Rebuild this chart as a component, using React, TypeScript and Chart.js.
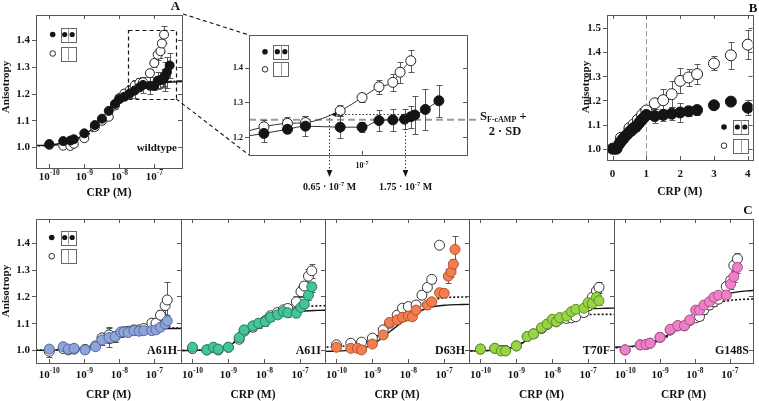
import { useEffect, useRef } from 'react';
import { Chart, registerables } from 'chart.js';

Chart.register(...registerables);

/* ---------- wild-type titration: panel A and its inset ---------- */
const WT_FILLED_CONC = [1e-10, 2.5e-10, 4e-10, 5e-10, 1e-9, 2e-9, 3.2e-9, 5e-9, 7.5e-9, 1e-8, 1.4e-8, 2e-8, 2.75e-8, 3.75e-8, 4.75e-8, 7.5e-8, 1e-7, 1.25e-7, 1.5e-7, 1.75e-7, 1.9e-7, 2e-7, 2.3e-7, 2.75e-7];
const WT_FILLED = [1.011, 1.022, 1.024, 1.029, 1.051, 1.082, 1.106, 1.135, 1.161, 1.179, 1.188, 1.2, 1.211, 1.223, 1.232, 1.229, 1.229, 1.248, 1.25, 1.252, 1.259, 1.264, 1.28, 1.305];
const WT_FILLED_SD = [0.006, 0.006, 0.007, 0.008, 0.008, 0.008, 0.008, 0.01, 0.01, 0.012, 0.012, 0.015, 0.026, 0.012, 0.029, 0.032, 0.015, 0.031, 0.031, 0.029, 0.032, 0.055, 0.058, 0.046];
const WT_OPEN_CONC = [1e-10, 2.5e-10, 4e-10, 5e-10, 1e-9, 2e-9, 3.2e-9, 5e-9, 7.5e-9, 1e-8, 1.4e-8, 2e-8, 2.75e-8, 3.75e-8, 4.75e-8, 7.5e-8, 1e-7, 1.25e-7, 1.5e-7, 1.65e-7, 1.9e-7];
const WT_OPEN = [1.008, 1.005, 1.004, 1.012, 1.033, 1.075, 1.098, 1.113, 1.155, 1.183, 1.2, 1.212, 1.23, 1.24, 1.242, 1.276, 1.314, 1.345, 1.358, 1.387, 1.42];
const WT_OPEN_SD = [0.01, 0.008, 0.008, 0.01, 0.008, 0.01, 0.01, 0.01, 0.012, 0.015, 0.015, 0.018, 0.02, 0.017, 0.019, 0.016, 0.014, 0.02, 0.024, 0.03, 0.031];

/* fitted binding curves, sampled every half decade */
const FIT_CONC = [3.16e-11, 1e-10, 3.16e-10, 1e-9, 3.16e-9, 1e-8, 3.16e-8, 1e-7, 3.16e-7, 1e-6];
const WT_FIT_FILLED = [1.005, 1.008, 1.018, 1.045, 1.1, 1.172, 1.218, 1.237, 1.243, 1.245];
const WT_FIT_OPEN = [1.003, 1.006, 1.013, 1.036, 1.094, 1.175, 1.224, 1.24, 1.246, 1.247];

/* inset annotations */
const THRESHOLD = 1.25; // S_F-cAMP + 2·SD
const ONSET_OPEN = 0.65e-7;
const ONSET_FILLED = 1.75e-7;
const ONSET_LEVEL = 1.266;
const ZOOM_BOX_X = [1.74e-8, 4.2e-7];
const ZOOM_BOX_Y = [1.18, 1.437];

/* ---------- panel B: linear concentration axis ---------- */
const B_FILLED_X = [0, 0.06, 0.12, 0.2, 0.25, 0.31, 0.37, 0.44, 0.5, 0.56, 0.62, 0.69, 0.75, 0.81, 0.87, 0.94, 1.0, 1.25, 1.5, 1.75, 2.0, 2.25, 2.5, 3.0, 3.5, 4.0];
const B_FILLED = [1.0, 1.0, 1.0, 1.02, 1.03, 1.04, 1.05, 1.06, 1.07, 1.075, 1.085, 1.09, 1.1, 1.11, 1.12, 1.13, 1.14, 1.135, 1.14, 1.145, 1.15, 1.155, 1.16, 1.18, 1.195, 1.17];
const B_FILLED_SD = [0, 0, 0, 0.008, 0.01, 0.01, 0.012, 0.015, 0.015, 0.015, 0.015, 0.015, 0.015, 0.015, 0.015, 0.012, 0.01, 0.03, 0.026, 0.028, 0.04, 0.02, 0.02, 0.01, 0.008, 0.031];
const B_OPEN_X = [0.25, 0.5, 0.625, 0.75, 0.875, 1.0, 1.25, 1.5, 1.75, 2.0, 2.25, 2.5, 3.0, 3.5, 4.0];
const B_OPEN = [1.045, 1.085, 1.1, 1.12, 1.14, 1.158, 1.188, 1.201, 1.226, 1.281, 1.295, 1.309, 1.353, 1.387, 1.431];
const B_OPEN_SD = [0.02, 0.02, 0.02, 0.025, 0.03, 0.02, 0.024, 0.047, 0.054, 0.052, 0.035, 0.041, 0.029, 0.055, 0.06];

/* ---------- panel C: mutants ---------- */
const A61H_CONC = [1e-10, 2.5e-10, 3.5e-10, 5.1e-10, 1.05e-9, 2.1e-9, 3.2e-9, 5.1e-9, 7.6e-9, 1.1e-8, 1.35e-8, 1.8e-8, 2.6e-8, 3.7e-8, 5e-8, 8.5e-8, 1.12e-7, 1.5e-7, 2.04e-7, 2.34e-7];
const A61H = [1.003, 1.012, 1.003, 1.006, 1.0, 1.012, 1.037, 1.046, 1.05, 1.067, 1.067, 1.065, 1.072, 1.07, 1.072, 1.072, 1.075, 1.085, 1.097, 1.109];
const A61H_SD = [0.01, 0.008, 0.008, 0.008, 0.01, 0.01, 0.02, 0.035, 0.02, 0.012, 0.01, 0.01, 0.01, 0.012, 0.012, 0.01, 0.01, 0.012, 0.015, 0.02];
const A61H_OPEN = [0.995, 1.005, 1.0, 1.003, 1.002, 1.015, 1.045, 1.056, 1.05, 1.065, 1.068, 1.07, 1.075, 1.075, 1.08, 1.1, 1.1, 1.13, 1.166, 1.187];
const A61H_OPEN_SD = [0.02, 0.008, 0.008, 0.008, 0.01, 0.01, 0.02, 0.03, 0.02, 0.015, 0.015, 0.015, 0.02, 0.02, 0.015, 0.02, 0.02, 0.02, 0.03, 0.068];
const A61H_FIT = [0.998, 0.999, 1.001, 1.006, 1.03, 1.06, 1.075, 1.079, 1.08, 1.08];
const A61H_FIT_OPEN = [0.999, 1.0, 1.002, 1.008, 1.032, 1.062, 1.077, 1.081, 1.082, 1.082];

const A61I_CONC = [1e-10, 2.5e-10, 3.8e-10, 5.2e-10, 1e-9, 2e-9, 2.75e-9, 4.8e-9, 6.9e-9, 1.07e-8, 1.5e-8, 2.35e-8, 3.4e-8, 4.5e-8, 7.8e-8, 1.05e-7, 1.3e-7, 1.7e-7, 2.1e-7];
const A61I = [1.01, 1.0, 1.01, 1.003, 1.01, 1.046, 1.075, 1.09, 1.1, 1.106, 1.122, 1.131, 1.143, 1.139, 1.137, 1.159, 1.172, 1.205, 1.236];
const A61I_SD = [0.008, 0.008, 0.008, 0.008, 0.008, 0.01, 0.012, 0.012, 0.015, 0.015, 0.012, 0.012, 0.012, 0.015, 0.015, 0.012, 0.015, 0.02, 0.02];
const A61I_OPEN = [1.005, 1.0, 1.008, 1.0, 1.01, 1.04, 1.07, 1.085, 1.098, 1.11, 1.128, 1.14, 1.15, 1.155, 1.18, 1.218, 1.239, 1.276, 1.296];
const A61I_OPEN_SD = [0.01, 0.01, 0.01, 0.01, 0.01, 0.012, 0.012, 0.015, 0.015, 0.015, 0.015, 0.015, 0.015, 0.018, 0.02, 0.02, 0.02, 0.025, 0.025];
const A61I_FIT = [0.997, 0.998, 1.0, 1.015, 1.06, 1.105, 1.135, 1.145, 1.148, 1.149];
const A61I_FIT_OPEN = [0.998, 0.999, 1.002, 1.017, 1.062, 1.11, 1.145, 1.16, 1.165, 1.166];

const D63H_CONC = [1e-10, 2.5e-10, 3.8e-10, 5e-10, 1e-9, 2e-9, 3e-9, 4.9e-9, 6.9e-9, 1e-8, 1.3e-8, 1.65e-8, 3.4e-8, 4.5e-8, 7.4e-8, 1e-7, 1.3e-7, 1.55e-7, 1.8e-7, 2e-7];
const D63H = [1.01, 1.006, 1.006, 1.0, 1.022, 1.056, 1.103, 1.112, 1.122, 1.127, 1.124, 1.149, 1.168, 1.18, 1.214, 1.212, 1.276, 1.292, 1.321, 1.376];
const D63H_SD = [0.01, 0.01, 0.01, 0.008, 0.01, 0.012, 0.012, 0.015, 0.015, 0.012, 0.012, 0.012, 0.015, 0.015, 0.015, 0.012, 0.025, 0.02, 0.02, 0.05];
const D63H_OPEN_CONC = [1e-10, 2.5e-10, 5e-10, 1e-9, 2e-9, 3e-9, 4.9e-9, 6.9e-9, 1e-8, 1.65e-8, 2.4e-8, 3.4e-8, 4.5e-8, 7.4e-8];
const D63H_OPEN = [1.019, 1.025, 1.029, 1.044, 1.075, 1.1, 1.13, 1.156, 1.162, 1.168, 1.205, 1.234, 1.264, 1.392];
const D63H_OPEN_SD = [0.008, 0.008, 0.008, 0.008, 0.01, 0.01, 0.012, 0.012, 0.012, 0.012, 0.012, 0.012, 0.012, 0.01];
const D63H_FIT = [0.994, 0.996, 1.0, 1.02, 1.07, 1.12, 1.155, 1.167, 1.17, 1.171];
const D63H_FIT_OPEN = [1.01, 1.012, 1.02, 1.04, 1.09, 1.14, 1.18, 1.195, 1.198, 1.199];

const T70F_CONC = [1e-10, 2.5e-10, 3.8e-10, 5e-10, 1e-9, 2e-9, 3e-9, 5e-9, 7.2e-9, 1e-8, 1.3e-8, 1.6e-8, 2.5e-8, 3.4e-8, 4.5e-8, 7.6e-8, 1e-7, 1.3e-7, 1.7e-7, 2e-7];
const T70F = [1.003, 1.006, 0.996, 0.996, 1.015, 1.05, 1.06, 1.083, 1.097, 1.115, 1.106, 1.121, 1.127, 1.143, 1.152, 1.156, 1.177, 1.174, 1.197, 1.184];
const T70F_SD = [0.008, 0.008, 0.006, 0.006, 0.008, 0.01, 0.01, 0.01, 0.01, 0.01, 0.01, 0.01, 0.012, 0.012, 0.012, 0.012, 0.015, 0.015, 0.015, 0.015];
const T70F_OPEN = [1.003, 1.006, 0.998, 0.998, 1.015, 1.05, 1.06, 1.08, 1.095, 1.11, 1.105, 1.115, 1.118, 1.12, 1.124, 1.14, 1.165, 1.197, 1.221, 1.234];
const T70F_OPEN_SD = [0.008, 0.008, 0.006, 0.006, 0.008, 0.01, 0.01, 0.01, 0.01, 0.01, 0.01, 0.01, 0.012, 0.012, 0.012, 0.012, 0.015, 0.015, 0.02, 0.02];
const T70F_FIT = [0.996, 0.997, 1.0, 1.015, 1.055, 1.105, 1.14, 1.153, 1.156, 1.157];
const T70F_FIT_OPEN = [0.996, 0.997, 1.0, 1.015, 1.055, 1.103, 1.128, 1.132, 1.133, 1.133];

const G148S_CONC = [1e-10, 2.7e-10, 4e-10, 5.2e-10, 1e-9, 1.95e-9, 3.2e-9, 5e-9, 7.1e-9, 1.05e-8, 1.35e-8, 1.8e-8, 2.6e-8, 3.5e-8, 4.7e-8, 7.9e-8, 1.05e-7, 1.3e-7, 1.65e-7];
const G148S = [1.0, 1.019, 1.021, 1.025, 1.047, 1.077, 1.091, 1.091, 1.112, 1.149, 1.149, 1.168, 1.18, 1.197, 1.205, 1.205, 1.246, 1.274, 1.309];
const G148S_SD = [0.008, 0.008, 0.008, 0.008, 0.01, 0.01, 0.01, 0.01, 0.012, 0.012, 0.012, 0.015, 0.015, 0.015, 0.015, 0.015, 0.018, 0.02, 0.02];
const G148S_OPEN = [1.0, 1.019, 1.02, 1.025, 1.047, 1.075, 1.09, 1.09, 1.11, 1.12, 1.125, 1.15, 1.168, 1.18, 1.19, 1.237, 1.26, 1.316, 1.341];
const G148S_OPEN_SD = [0.008, 0.008, 0.008, 0.008, 0.01, 0.01, 0.01, 0.01, 0.012, 0.012, 0.012, 0.015, 0.015, 0.015, 0.015, 0.015, 0.018, 0.02, 0.022];
const G148S_FIT = [1.01, 1.012, 1.02, 1.04, 1.08, 1.14, 1.19, 1.212, 1.221, 1.223];
const G148S_FIT_OPEN = [1.008, 1.01, 1.018, 1.036, 1.075, 1.13, 1.17, 1.185, 1.19, 1.191];

/* ---------- axis ticks ---------- */
const LOG_TICKS = [1e-10, 1e-9, 1e-8, 1e-7];
const ANIS_TICKS = [1.0, 1.1, 1.2, 1.3, 1.4];
const INSET_TICKS = [1.2, 1.3, 1.4];
const B_Y_TICKS = [1.0, 1.1, 1.2, 1.3, 1.4, 1.5];
const B_X_TICKS = [0, 1, 2, 3, 4];

const MUTANTS = [
  { name: 'A61H', fill: '#8ea5da', edge: '#5668a3', conc: A61H_CONC, y: A61H, sd: A61H_SD, openConc: A61H_CONC, open: A61H_OPEN, openSd: A61H_OPEN_SD, fit: A61H_FIT, fitOpen: A61H_FIT_OPEN },
  { name: 'A61I', fill: '#45c39c', edge: '#23825f', conc: A61I_CONC, y: A61I, sd: A61I_SD, openConc: A61I_CONC, open: A61I_OPEN, openSd: A61I_OPEN_SD, fit: A61I_FIT, fitOpen: A61I_FIT_OPEN },
  { name: 'D63H', fill: '#f47e50', edge: '#b5522b', conc: D63H_CONC, y: D63H, sd: D63H_SD, openConc: D63H_OPEN_CONC, open: D63H_OPEN, openSd: D63H_OPEN_SD, fit: D63H_FIT, fitOpen: D63H_FIT_OPEN },
  { name: 'T70F', fill: '#98d446', edge: '#5e8f22', conc: T70F_CONC, y: T70F, sd: T70F_SD, openConc: T70F_CONC, open: T70F_OPEN, openSd: T70F_OPEN_SD, fit: T70F_FIT, fitOpen: T70F_FIT_OPEN },
  { name: 'G148S', fill: '#ee80c8', edge: '#ad4f8b', conc: G148S_CONC, y: G148S, sd: G148S_SD, openConc: G148S_CONC, open: G148S_OPEN, openSd: G148S_OPEN_SD, fit: G148S_FIT, fitOpen: G148S_FIT_OPEN },
];

/* ---------- drawing helpers ---------- */
const PAGE_W = 759;
const PAGE_H = 401;
const SERIF = '"Liberation Serif", "Times New Roman", Times, serif';
const INK = '#141414';
const FRAME_COLOR = '#585858';
const TICK = 4;

type Seg = { t: string; s: number; dy?: number };
type Frame = { l: number; t: number; r: number; b: number };
type Spec = {
  id: string;
  frame: Frame;
  xType: 'logarithmic' | 'linear';
  xMin: number;
  xMax: number;
  yMin: number;
  yMax: number;
  xTicks: number[];
  topTicks: boolean;
  xLabel?: (v: number) => Seg[];
  xLabelY: number;
  yTicks: number[];
  yLabelSize?: number;
  datasets: any[];
  before?: (c: any, ctx: CanvasRenderingContext2D) => void;
  after?: (c: any, ctx: CanvasRenderingContext2D) => void;
};

const fontOf = (s: number) => `bold ${s}px ${SERIF}`;
const crisp = (v: number) => Math.round(v) + 0.5;

function rich(ctx: CanvasRenderingContext2D, segs: Seg[], x: number, y: number, align: 'left' | 'center' | 'right' = 'center') {
  let w = 0;
  for (const g of segs) {
    ctx.font = fontOf(g.s);
    w += ctx.measureText(g.t).width;
  }
  let cx = align === 'center' ? x - w / 2 : align === 'right' ? x - w : x;
  ctx.textAlign = 'left';
  ctx.textBaseline = 'alphabetic';
  for (const g of segs) {
    ctx.font = fontOf(g.s);
    ctx.fillText(g.t, cx, y + (g.dy || 0));
    cx += ctx.measureText(g.t).width;
  }
}

const pow10 = (v: number, s = 11, es = 7.5): Seg[] => [
  { t: '10', s },
  { t: String(Math.round(Math.log10(v))), s: es, dy: -s * 0.42 },
];

function text(ctx: CanvasRenderingContext2D, s: string, x: number, y: number, size: number, align: CanvasTextAlign = 'center') {
  ctx.font = fontOf(size);
  ctx.textAlign = align;
  ctx.textBaseline = 'alphabetic';
  ctx.fillStyle = INK;
  ctx.fillText(s, x, y);
}

function vtext(ctx: CanvasRenderingContext2D, s: string, x: number, y: number, size: number) {
  ctx.save();
  ctx.translate(x, y);
  ctx.rotate(-Math.PI / 2);
  ctx.font = fontOf(size);
  ctx.textAlign = 'center';
  ctx.textBaseline = 'middle';
  ctx.fillStyle = INK;
  ctx.fillText(s, 0, 0);
  ctx.restore();
}

function disc(ctx: CanvasRenderingContext2D, x: number, y: number, r: number, filled: boolean) {
  ctx.beginPath();
  ctx.arc(x, y, r, 0, Math.PI * 2);
  if (filled) {
    ctx.fillStyle = INK;
    ctx.fill();
  } else {
    ctx.fillStyle = '#fff';
    ctx.fill();
    ctx.strokeStyle = INK;
    ctx.lineWidth = 0.9;
    ctx.stroke();
  }
}

// symbol key: filled dot + box with two occupied sites, open dot + empty box
function keyGlyphs(ctx: CanvasRenderingContext2D, x: number, y: number, gap: number, off: number) {
  const bw = 15;
  const bh = 14;
  const bx = x + off;
  [y, y + gap].forEach((ry, row) => {
    disc(ctx, x, ry, 2.8, row === 0);
    ctx.strokeStyle = '#666';
    ctx.lineWidth = 1;
    ctx.strokeRect(crisp(bx), crisp(ry - bh / 2), bw, bh);
    ctx.strokeStyle = '#9a9a9a';
    ctx.beginPath();
    ctx.moveTo(crisp(bx + bw / 2), ry - bh / 2);
    ctx.lineTo(crisp(bx + bw / 2), ry + bh / 2);
    ctx.stroke();
    if (row === 0) {
      disc(ctx, bx + 4, ry, 2.6, true);
      disc(ctx, bx + 11.5, ry, 2.6, true);
    }
  });
}

function arrowDown(ctx: CanvasRenderingContext2D, x: number, y: number) {
  ctx.beginPath();
  ctx.moveTo(x, y);
  ctx.lineTo(x - 2.8, y - 7);
  ctx.lineTo(x + 2.8, y - 7);
  ctx.closePath();
  ctx.fill();
}

const pts = (xs: number[], ys: number[]) => xs.map((x, i) => ({ x, y: ys[i] }));

function markers(xs: number[], ys: number[], sd: number[], fill: string, edge: string, r: number) {
  return {
    data: pts(xs, ys),
    errors: sd,
    showLine: false,
    pointRadius: r,
    pointHoverRadius: r,
    pointBackgroundColor: fill,
    pointBorderColor: edge,
    pointBorderWidth: 1,
    backgroundColor: fill,
    borderColor: edge,
  };
}

function curve(xs: number[], ys: number[], dash: number[], width = 1.4) {
  return {
    data: pts(xs, ys),
    showLine: true,
    pointRadius: 0,
    pointHoverRadius: 0,
    borderColor: INK,
    borderWidth: width,
    borderDash: dash,
    cubicInterpolationMode: 'monotone',
    tension: 0.4,
    fill: false,
  };
}

function decorPlugin(spec: Spec) {
  return {
    id: 'decor_' + spec.id,
    beforeDatasetsDraw(chart: any) {
      const ctx = chart.ctx as CanvasRenderingContext2D;
      const a = chart.chartArea;
      if (spec.before) {
        ctx.save();
        spec.before(chart, ctx);
        ctx.restore();
      }
      // standard-deviation bars, behind the symbols
      const xs = chart.scales.x;
      const ys = chart.scales.y;
      ctx.save();
      ctx.beginPath();
      ctx.rect(a.left, a.top, a.right - a.left, a.bottom - a.top);
      ctx.clip();
      ctx.strokeStyle = '#4a4a4a';
      ctx.lineWidth = 0.9;
      for (const ds of chart.data.datasets as any[]) {
        if (!ds.errors) continue;
        ds.data.forEach((p: any, i: number) => {
          const e = ds.errors[i];
          if (!e) return;
          const px = crisp(xs.getPixelForValue(p.x));
          const y1 = crisp(ys.getPixelForValue(p.y - e));
          const y2 = crisp(ys.getPixelForValue(p.y + e));
          ctx.beginPath();
          ctx.moveTo(px, y1);
          ctx.lineTo(px, y2);
          ctx.moveTo(px - 3, y1);
          ctx.lineTo(px + 3, y1);
          ctx.moveTo(px - 3, y2);
          ctx.lineTo(px + 3, y2);
          ctx.stroke();
        });
      }
      ctx.restore();
    },
    afterDatasetsDraw(chart: any) {
      const ctx = chart.ctx as CanvasRenderingContext2D;
      const a = chart.chartArea;
      const xs = chart.scales.x;
      const ys = chart.scales.y;
      ctx.save();
      ctx.strokeStyle = FRAME_COLOR;
      ctx.lineWidth = 1;
      ctx.strokeRect(crisp(a.left), crisp(a.top), Math.round(a.right - a.left), Math.round(a.bottom - a.top));
      ctx.beginPath();
      for (const v of spec.xTicks) {
        const px = crisp(xs.getPixelForValue(v));
        ctx.moveTo(px, a.bottom);
        ctx.lineTo(px, a.bottom - TICK);
        if (spec.topTicks) {
          ctx.moveTo(px, a.top);
          ctx.lineTo(px, a.top + TICK);
        }
      }
      for (const v of spec.yTicks) {
        const py = crisp(ys.getPixelForValue(v));
        ctx.moveTo(a.left - TICK, py);
        ctx.lineTo(a.left, py);
        ctx.moveTo(a.right - TICK, py);
        ctx.lineTo(a.right, py);
      }
      ctx.stroke();
      ctx.fillStyle = INK;
      if (spec.xLabel) {
        for (const v of spec.xTicks) rich(ctx, spec.xLabel(v), xs.getPixelForValue(v), spec.xLabelY, 'center');
      }
      if (spec.yLabelSize) {
        ctx.font = fontOf(spec.yLabelSize);
        ctx.textAlign = 'right';
        ctx.textBaseline = 'middle';
        for (const v of spec.yTicks) ctx.fillText(v.toFixed(1), a.left - TICK - 2, ys.getPixelForValue(v) + 0.5);
      }
      if (spec.after) spec.after(chart, ctx);
      ctx.restore();
    },
  };
}

/* ---------- panel definitions ---------- */
function buildSpecs(registry: Record<string, any>): Spec[] {
  const specs: Spec[] = [];

  // A: wild type, full range
  specs.push({
    id: 'A',
    frame: { l: 36, t: 15, r: 182, b: 168 },
    xType: 'logarithmic',
    xMin: 10 ** -10.38,
    xMax: 10 ** (-10.38 + 146 / 35),
    yMin: 0.9215,
    yMax: 1.4935,
    xTicks: LOG_TICKS,
    topTicks: true,
    xLabel: (v) => pow10(v),
    xLabelY: 180,
    yTicks: ANIS_TICKS,
    yLabelSize: 11,
    datasets: [
      markers(WT_FILLED_CONC, WT_FILLED, WT_FILLED_SD, INK, INK, 4.5),
      markers(WT_OPEN_CONC, WT_OPEN, WT_OPEN_SD, '#fff', '#222', 4.5),
      curve(FIT_CONC, WT_FIT_FILLED, []),
      curve(FIT_CONC, WT_FIT_OPEN, [5, 2, 1.5, 2]),
    ],
    after: (c, ctx) => {
      const a = c.chartArea;
      const xs = c.scales.x;
      const ys = c.scales.y;
      const x1 = xs.getPixelForValue(ZOOM_BOX_X[0]);
      const x2 = xs.getPixelForValue(ZOOM_BOX_X[1]);
      const y1 = ys.getPixelForValue(ZOOM_BOX_Y[1]);
      const y2 = ys.getPixelForValue(ZOOM_BOX_Y[0]);
      ctx.strokeStyle = INK;
      ctx.lineWidth = 1.2;
      ctx.setLineDash([4, 3]);
      ctx.strokeRect(crisp(x1), crisp(y1), Math.round(x2 - x1), Math.round(y2 - y1));
      ctx.setLineDash([]);
      keyGlyphs(ctx, 52.7, 34.5, 19, 8);
      text(ctx, 'wildtype', a.right - 5, 151, 11, 'right');
      text(ctx, 'A', 175.5, 10, 13);
      text(ctx, 'CRP (M)', (a.left + a.right) / 2, 195.5, 11.5);
      vtext(ctx, 'Anisotropy', 6.5, 87, 11);
    },
  });

  // inset: magnified high-concentration region of the wild type
  specs.push({
    id: 'inset',
    frame: { l: 249, t: 35, r: 467, b: 155 },
    xType: 'logarithmic',
    xMin: 10 ** -7.646,
    xMax: 10 ** -6.4,
    yMin: 1.149,
    yMax: 1.494,
    xTicks: [1e-7],
    topTicks: false,
    xLabel: (v) => pow10(v, 8, 6),
    xLabelY: 168,
    yTicks: INSET_TICKS,
    yLabelSize: 8,
    datasets: [
      { ...markers(WT_FILLED_CONC, WT_FILLED, WT_FILLED_SD, INK, INK, 5), showLine: true, borderColor: '#333', borderWidth: 1, cubicInterpolationMode: 'monotone', clip: 0 },
      { ...markers(WT_OPEN_CONC, WT_OPEN, WT_OPEN_SD, '#fff', '#222', 5), showLine: true, borderColor: '#333', borderWidth: 1, cubicInterpolationMode: 'monotone', clip: 0 },
    ],
    before: (c, ctx) => {
      const a = c.chartArea;
      const y = c.scales.y.getPixelForValue(THRESHOLD);
      ctx.strokeStyle = '#9b9b9b';
      ctx.lineWidth = 2;
      ctx.setLineDash([7, 4]);
      ctx.beginPath();
      ctx.moveTo(a.left, y);
      ctx.lineTo(478, y);
      ctx.stroke();
      ctx.setLineDash([]);
    },
    after: (c, ctx) => {
      const a = c.chartArea;
      const xs = c.scales.x;
      const ys = c.scales.y;
      keyGlyphs(ctx, 265, 51.7, 17.6, 8.3);

      const xa = crisp(xs.getPixelForValue(ONSET_OPEN));
      const xb = crisp(xs.getPixelForValue(ONSET_FILLED));
      const yl = crisp(ys.getPixelForValue(ONSET_LEVEL));
      const yEnd = a.bottom + 22;
      ctx.strokeStyle = '#333';
      ctx.lineWidth = 1;
      ctx.setLineDash([1.5, 2]);
      ctx.beginPath();
      ctx.moveTo(xa + 5, yl);
      ctx.lineTo(xb, yl);
      ctx.moveTo(xa, yl);
      ctx.lineTo(xa, yEnd - 6);
      ctx.moveTo(xb, yl);
      ctx.lineTo(xb, yEnd - 6);
      ctx.stroke();
      ctx.setLineDash([]);
      ctx.fillStyle = INK;
      arrowDown(ctx, xa, yEnd);
      arrowDown(ctx, xb, yEnd);
      ctx.beginPath();
      ctx.moveTo(xa + 1.5, yl);
      ctx.lineTo(xa + 7, yl - 2.5);
      ctx.lineTo(xa + 7, yl + 2.5);
      ctx.closePath();
      ctx.fill();
      rich(ctx, [{ t: '0.65 · 10', s: 10 }, { t: '-7', s: 6.5, dy: -4 }, { t: ' M', s: 10 }], xa, 189.5, 'center');
      rich(ctx, [{ t: '1.75 · 10', s: 10 }, { t: '-7', s: 6.5, dy: -4 }, { t: ' M', s: 10 }], xb, 189.5, 'center');

      rich(ctx, [{ t: 'S', s: 12.5 }, { t: 'F-cAMP', s: 8, dy: 2.5 }, { t: ' +', s: 12.5 }], 480, 119.5, 'left');
      rich(ctx, [{ t: '2 · SD', s: 12.5 }], 505, 134.5, 'center');

      // dashed connectors back to the zoom box in panel A
      const A = registry.A;
      if (A) {
        const aa = A.chartArea;
        const bx = A.scales.x.getPixelForValue(ZOOM_BOX_X[1]);
        const by = A.scales.y.getPixelForValue(ZOOM_BOX_Y[0]);
        ctx.strokeStyle = INK;
        ctx.lineWidth = 1.1;
        ctx.setLineDash([4, 3]);
        ctx.beginPath();
        ctx.moveTo(aa.right + 1, aa.top - 1);
        ctx.lineTo(a.left, a.top);
        ctx.moveTo(bx, by);
        ctx.lineTo(a.left, a.bottom);
        ctx.stroke();
        ctx.setLineDash([]);
      }
    },
  });

  // B: linear concentration scale
  specs.push({
    id: 'B',
    frame: { l: 607, t: 15, r: 755, b: 160 },
    xType: 'linear',
    xMin: -5.6 / 34.4,
    xMax: -5.6 / 34.4 + 148 / 34.4,
    yMin: 0.953,
    yMax: 1.554,
    xTicks: B_X_TICKS,
    topTicks: true,
    xLabel: (v) => [{ t: String(v), s: 11 }],
    xLabelY: 177,
    yTicks: B_Y_TICKS,
    yLabelSize: 11,
    datasets: [
      markers(B_FILLED_X, B_FILLED, B_FILLED_SD, INK, INK, 5.5),
      markers(B_OPEN_X, B_OPEN, B_OPEN_SD, '#fff', '#222', 5.5),
    ],
    before: (c, ctx) => {
      const a = c.chartArea;
      const x = crisp(c.scales.x.getPixelForValue(1));
      ctx.strokeStyle = '#9b9b9b';
      ctx.lineWidth = 1;
      ctx.setLineDash([5, 3]);
      ctx.beginPath();
      ctx.moveTo(x, a.top);
      ctx.lineTo(x, a.bottom);
      ctx.stroke();
      ctx.setLineDash([]);
    },
    after: (c, ctx) => {
      const a = c.chartArea;
      keyGlyphs(ctx, 724, 127, 18.7, 9.3);
      text(ctx, 'B', 753, 12, 13);
      text(ctx, 'CRP (M)', (a.left + a.right) / 2, 195, 11.5);
      vtext(ctx, 'Anisotropy', 586, 87, 11);
    },
  });

  // C: one frame per mutant, sharing the anisotropy axis
  const C_FRAMES = [
    { l: 36, r: 181 },
    { l: 181, r: 325 },
    { l: 325, r: 469 },
    { l: 469, r: 614 },
    { l: 614, r: 757 },
  ];
  MUTANTS.forEach((m, i) => {
    const f = C_FRAMES[i];
    const lmin = i === 0 ? -10.38 : -10.32;
    const ppd = i === 0 ? 35 : 35.9;
    specs.push({
      id: 'C' + i,
      frame: { l: f.l, t: 219, r: f.r, b: 363 },
      xType: 'logarithmic',
      xMin: 10 ** lmin,
      xMax: 10 ** (lmin + (f.r - f.l) / ppd),
      yMin: 0.951,
      yMax: 1.49,
      xTicks: LOG_TICKS,
      topTicks: true,
      xLabel: (v) => pow10(v),
      xLabelY: 378,
      yTicks: ANIS_TICKS,
      yLabelSize: i === 0 ? 11 : undefined,
      datasets: [
        markers(m.conc, m.y, m.sd, m.fill, m.edge, 5),
        markers(m.openConc, m.open, m.openSd, '#fff', '#333', 5),
        curve(FIT_CONC, m.fit, []),
        curve(FIT_CONC, m.fitOpen, [2, 2], 1.6),
      ],
      after: (c, ctx) => {
        const a = c.chartArea;
        text(ctx, m.name, a.right - 4, 354, 12, 'right');
        text(ctx, 'CRP (M)', (a.left + a.right) / 2, 397.5, 11.5);
        if (i === 0) {
          keyGlyphs(ctx, 51.7, 237.5, 18.7, 9);
          vtext(ctx, 'Anisotropy', 6.5, 291, 11);
        }
        if (i === MUTANTS.length - 1) text(ctx, 'C', 748, 214, 13);
      },
    });
  });

  return specs;
}

function makeChart(canvas: HTMLCanvasElement, spec: Spec) {
  const f = spec.frame;
  return new Chart(canvas, {
    type: 'scatter',
    data: { datasets: spec.datasets },
    options: {
      responsive: false,
      animation: false,
      devicePixelRatio: 1,
      events: [],
      layout: { padding: { left: f.l, top: f.t, right: PAGE_W - f.r, bottom: PAGE_H - f.b } },
      scales: {
        x: { type: spec.xType, min: spec.xMin, max: spec.xMax, display: false },
        y: { type: 'linear', min: spec.yMin, max: spec.yMax, display: false },
      },
      plugins: { legend: { display: false }, tooltip: { enabled: false } },
    } as any,
    plugins: [decorPlugin(spec) as any],
  });
}

const PANEL_COUNT = 8;

export default function App() {
  const refs = useRef<(HTMLCanvasElement | null)[]>([]);

  useEffect(() => {
    const registry: Record<string, any> = {};
    const specs = buildSpecs(registry);
    const charts = specs.map((spec, i) => {
      const chart = makeChart(refs.current[i] as HTMLCanvasElement, spec);
      registry[spec.id] = chart;
      return chart;
    });
    // the inset draws its connectors from panel A's scales, so refresh it once A exists
    charts[1].update();
    return () => charts.forEach((c) => c.destroy());
  }, []);

  return (
    <div style={{ position: 'absolute', left: 0, top: 0, width: PAGE_W, height: PAGE_H, background: '#fff', overflow: 'hidden' }}>
      {Array.from({ length: PANEL_COUNT }).map((_, i) => (
        <canvas
          key={i}
          ref={(el) => {
            refs.current[i] = el;
          }}
          width={PAGE_W}
          height={PAGE_H}
          style={{ position: 'absolute', left: 0, top: 0, width: PAGE_W, height: PAGE_H }}
        />
      ))}
    </div>
  );
}
